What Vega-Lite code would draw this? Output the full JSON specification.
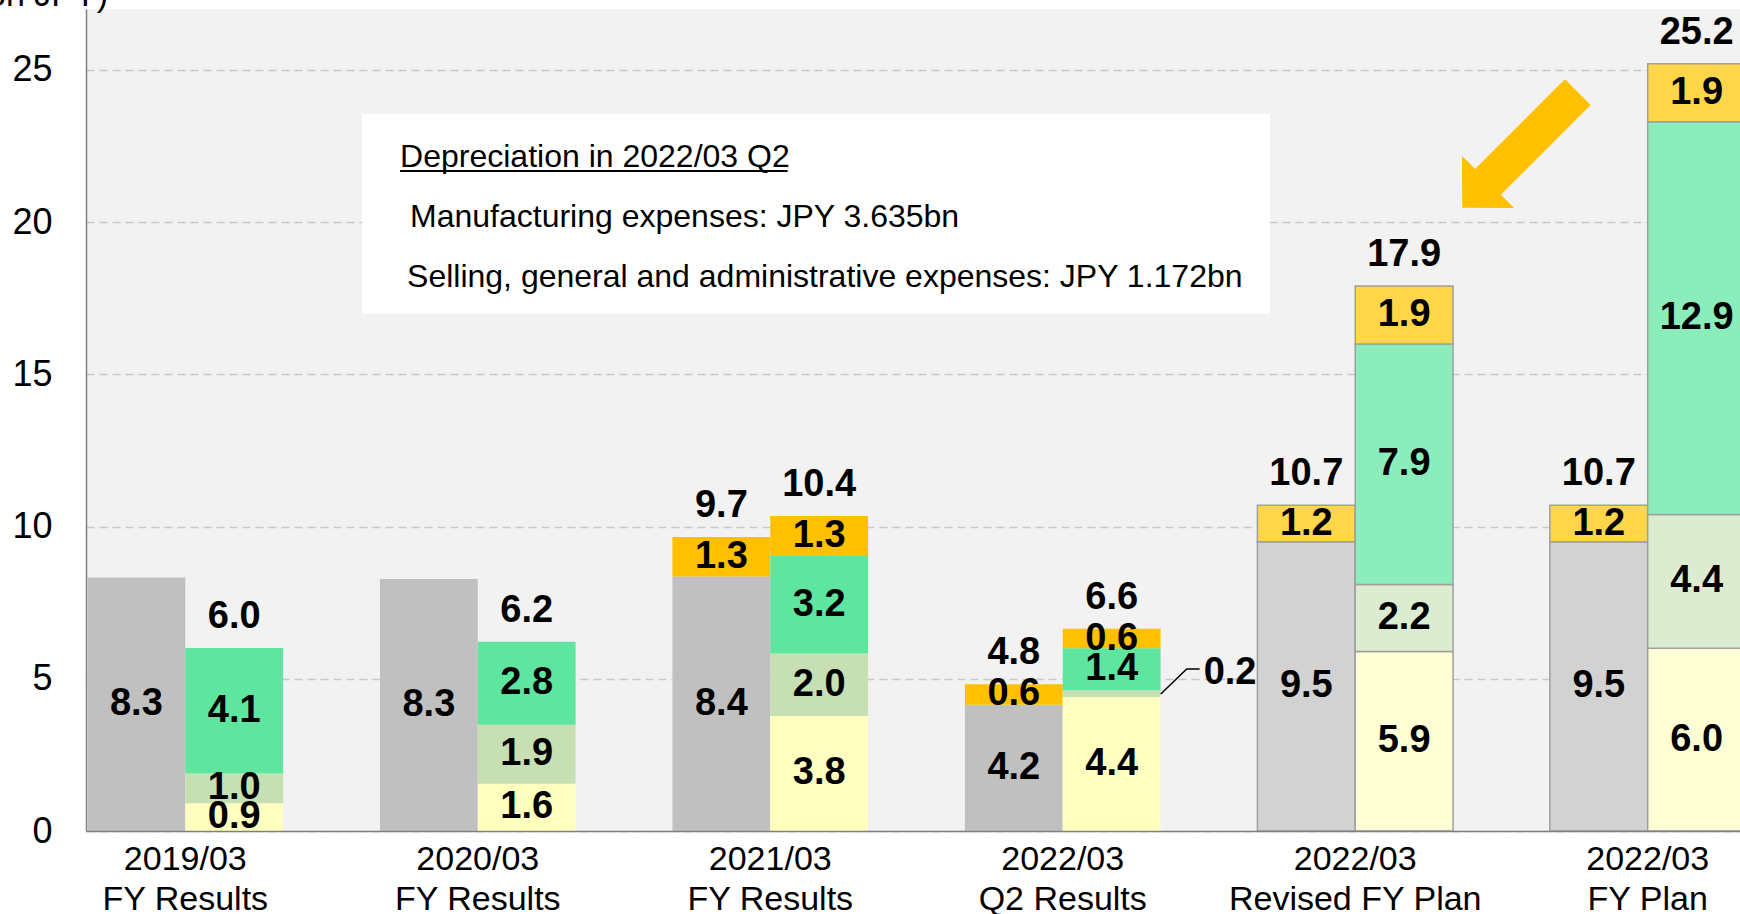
{
  "$schema": "https://vega.github.io/schema/vega-lite/v6.json",
  "width": 1654,
  "height": 822,
  "autosize": {"type": "none"},
  "padding": {"left": 86, "top": 9, "right": 0, "bottom": 83},
  "background": "white",
  "config": {
    "font": "Liberation Sans",
    "view": {"fill": "#f2f2f2", "stroke": null},
    "axisY": {
      "labelFontSize": 36,
      "labelColor": "#000000",
      "labelPadding": 34,
      "ticks": false,
      "domainColor": "#7f7f7f",
      "domainWidth": 1.5,
      "gridColor": "#c8c8c8",
      "gridDash": [8, 5],
      "gridWidth": 1.5
    }
  },
  "datasets": {
    "segs": [
      {"period": "2019/03|FY Results", "bar": "L", "seg": "gray", "kind": "result", "value": 8.33, "label": "8.3"},
      {"period": "2019/03|FY Results", "bar": "R", "seg": "yellow", "kind": "result", "value": 0.91, "label": "0.9"},
      {"period": "2019/03|FY Results", "bar": "R", "seg": "lgreen", "kind": "result", "value": 0.98, "label": "1.0"},
      {"period": "2019/03|FY Results", "bar": "R", "seg": "green", "kind": "result", "value": 4.12, "label": "4.1"},
      {"period": "2020/03|FY Results", "bar": "L", "seg": "gray", "kind": "result", "value": 8.28, "label": "8.3"},
      {"period": "2020/03|FY Results", "bar": "R", "seg": "yellow", "kind": "result", "value": 1.55, "label": "1.6"},
      {"period": "2020/03|FY Results", "bar": "R", "seg": "lgreen", "kind": "result", "value": 1.94, "label": "1.9"},
      {"period": "2020/03|FY Results", "bar": "R", "seg": "green", "kind": "result", "value": 2.73, "label": "2.8"},
      {"period": "2021/03|FY Results", "bar": "L", "seg": "gray", "kind": "result", "value": 8.36, "label": "8.4"},
      {"period": "2021/03|FY Results", "bar": "L", "seg": "orange", "kind": "result", "value": 1.3, "label": "1.3"},
      {"period": "2021/03|FY Results", "bar": "R", "seg": "yellow", "kind": "result", "value": 3.78, "label": "3.8"},
      {"period": "2021/03|FY Results", "bar": "R", "seg": "lgreen", "kind": "result", "value": 2.05, "label": "2.0"},
      {"period": "2021/03|FY Results", "bar": "R", "seg": "green", "kind": "result", "value": 3.2, "label": "3.2"},
      {"period": "2021/03|FY Results", "bar": "R", "seg": "orange", "kind": "result", "value": 1.32, "label": "1.3"},
      {"period": "2022/03|Q2 Results", "bar": "L", "seg": "gray", "kind": "result", "value": 4.15, "label": "4.2"},
      {"period": "2022/03|Q2 Results", "bar": "L", "seg": "orange", "kind": "result", "value": 0.67, "label": "0.6"},
      {"period": "2022/03|Q2 Results", "bar": "R", "seg": "yellow", "kind": "result", "value": 4.4, "label": "4.4"},
      {"period": "2022/03|Q2 Results", "bar": "R", "seg": "lgreen", "kind": "result", "value": 0.22, "label": "0.2"},
      {"period": "2022/03|Q2 Results", "bar": "R", "seg": "green", "kind": "result", "value": 1.38, "label": "1.4"},
      {"period": "2022/03|Q2 Results", "bar": "R", "seg": "orange", "kind": "result", "value": 0.64, "label": "0.6"},
      {"period": "2022/03|Revised FY Plan", "bar": "L", "seg": "gray", "kind": "plan", "value": 9.5, "label": "9.5"},
      {"period": "2022/03|Revised FY Plan", "bar": "L", "seg": "orange", "kind": "plan", "value": 1.2, "label": "1.2"},
      {"period": "2022/03|Revised FY Plan", "bar": "R", "seg": "yellow", "kind": "plan", "value": 5.9, "label": "5.9"},
      {"period": "2022/03|Revised FY Plan", "bar": "R", "seg": "lgreen", "kind": "plan", "value": 2.2, "label": "2.2"},
      {"period": "2022/03|Revised FY Plan", "bar": "R", "seg": "green", "kind": "plan", "value": 7.9, "label": "7.9"},
      {"period": "2022/03|Revised FY Plan", "bar": "R", "seg": "orange", "kind": "plan", "value": 1.9, "label": "1.9"},
      {"period": "2022/03|FY Plan", "bar": "L", "seg": "gray", "kind": "plan", "value": 9.5, "label": "9.5"},
      {"period": "2022/03|FY Plan", "bar": "L", "seg": "orange", "kind": "plan", "value": 1.2, "label": "1.2"},
      {"period": "2022/03|FY Plan", "bar": "R", "seg": "yellow", "kind": "plan", "value": 6.0, "label": "6.0"},
      {"period": "2022/03|FY Plan", "bar": "R", "seg": "lgreen", "kind": "plan", "value": 4.4, "label": "4.4"},
      {"period": "2022/03|FY Plan", "bar": "R", "seg": "green", "kind": "plan", "value": 12.9, "label": "12.9"},
      {"period": "2022/03|FY Plan", "bar": "R", "seg": "orange", "kind": "plan", "value": 1.9, "label": "1.9"}
    ],
    "totals": [
      {"period": "2019/03|FY Results", "bar": "R", "total": 6.01, "label": "6.0"},
      {"period": "2020/03|FY Results", "bar": "R", "total": 6.22, "label": "6.2"},
      {"period": "2021/03|FY Results", "bar": "L", "total": 9.66, "label": "9.7"},
      {"period": "2021/03|FY Results", "bar": "R", "total": 10.35, "label": "10.4"},
      {"period": "2022/03|Q2 Results", "bar": "L", "total": 4.82, "label": "4.8"},
      {"period": "2022/03|Q2 Results", "bar": "R", "total": 6.64, "label": "6.6"},
      {"period": "2022/03|Revised FY Plan", "bar": "L", "total": 10.7, "label": "10.7"},
      {"period": "2022/03|Revised FY Plan", "bar": "R", "total": 17.9, "label": "17.9"},
      {"period": "2022/03|FY Plan", "bar": "L", "total": 10.7, "label": "10.7"},
      {"period": "2022/03|FY Plan", "bar": "R", "total": 25.2, "label": "25.2"}
    ],
    "box": [
      {"x1": 0.1669, "x2": 0.7158, "y1": 23.55, "y2": 17.0}
    ],
    "notes": [
      {"text": "Depreciation in 2022/03 Q2", "x": 0.1899, "y": 21.8},
      {"text": "Manufacturing expenses: JPY 3.635bn", "x": 0.1959, "y": 19.85},
      {"text": "Selling, general and administrative expenses: JPY 1.172bn", "x": 0.1941, "y": 17.88}
    ],
    "underline": [
      {"x1": 0.1899, "x2": 0.4242, "y": 21.68}
    ],
    "leader": [
      {"i": 0, "x": 0.6498, "y": 4.5},
      {"i": 1, "x": 0.6655, "y": 5.32},
      {"i": 2, "x": 0.6733, "y": 5.32}
    ],
    "arrow": [
      {"x": 0.867, "y": 22.37}
    ],
    "unit": [
      {"text": "(Bn JPY)", "x": 0.0133, "y": 27.1}
    ]
  },
  "layer": [
    {
      "layer": [
        {
          "data": {"name": "segs"},
          "transform": [
            {"calculate": "indexof(['gray','yellow','lgreen','green','orange'], datum.seg)", "as": "ord"},
            {"calculate": "datum.seg + '|' + datum.kind", "as": "key"},
            {"stack": "value", "groupby": ["period", "bar"], "sort": [{"field": "ord", "order": "ascending"}], "as": ["y0", "y1"]},
            {"calculate": "(datum.y0 + datum.y1) / 2", "as": "ym"}
          ],
          "layer": [
            {
              "mark": {"type": "bar", "stroke": "#a0a0a0"},
              "encoding": {
                "y": {"field": "y1", "type": "quantitative", "scale": {"domain": [0, 27], "nice": false, "zero": true}, "axis": {"values": [0, 5, 10, 15, 20, 25], "title": null}},
                "y2": {"field": "y0"},
                "fill": {
                  "field": "key",
                  "type": "nominal",
                  "legend": null,
                  "scale": {
                    "domain": ["gray|result", "orange|result", "green|result", "lgreen|result", "yellow|result", "gray|plan", "orange|plan", "green|plan", "lgreen|plan", "yellow|plan"],
                    "range": ["#c0c0c0", "#ffc000", "#5ee6a0", "#c6e0b4", "#ffffc0", "#d2d2d2", "#ffd54a", "#8aedbb", "#dbecd0", "#ffffd6"]
                  }
                },
                "strokeWidth": {"condition": {"test": "datum.kind === 'plan'", "value": 1.5}, "value": 0}
              }
            },
            {
              "transform": [{"filter": "datum.value >= 0.5"}],
              "mark": {"type": "text", "fontSize": 38, "fontWeight": "bold", "color": "#000000", "baseline": "middle", "align": "center"},
              "encoding": {
                "y": {"field": "ym", "type": "quantitative", "scale": {"domain": [0, 27], "nice": false, "zero": true}, "axis": {"values": [0, 5, 10, 15, 20, 25], "title": null}},
                "text": {"field": "label"}
              }
            },
            {
              "transform": [{"filter": "datum.value < 0.5"}],
              "mark": {"type": "text", "fontSize": 38, "fontWeight": "bold", "color": "#000000", "baseline": "middle", "align": "left", "dx": 92, "dy": -21},
              "encoding": {
                "y": {"field": "ym", "type": "quantitative", "scale": {"domain": [0, 27], "nice": false, "zero": true}, "axis": {"values": [0, 5, 10, 15, 20, 25], "title": null}},
                "text": {"field": "label"}
              }
            }
          ]
        },
        {
          "data": {"name": "totals"},
          "mark": {"type": "text", "fontSize": 38, "fontWeight": "bold", "color": "#000000", "baseline": "alphabetic", "align": "center", "dy": -20},
          "encoding": {
            "y": {"field": "total", "type": "quantitative", "scale": {"domain": [0, 27], "nice": false, "zero": true}, "axis": {"values": [0, 5, 10, 15, 20, 25], "title": null}},
            "text": {"field": "label"}
          }
        }
      ],
      "encoding": {
        "x": {
          "field": "period",
          "type": "nominal",
          "scale": {
            "domain": ["2019/03|FY Results", "2020/03|FY Results", "2021/03|FY Results", "2022/03|Q2 Results", "2022/03|Revised FY Plan", "2022/03|FY Plan"],
            "range": [0, 1661],
            "paddingInner": 0.331,
            "paddingOuter": 0.005
          },
          "axis": {
            "title": null,
            "labelExpr": "split(datum.value, '|')",
            "labelAngle": 0,
            "labelFontSize": 34,
            "labelColor": "#000000",
            "labelLineHeight": 40,
            "labelPadding": 11,
            "labelLimit": 0,
            "ticks": false,
            "grid": false,
            "domainColor": "#7f7f7f",
            "domainWidth": 1.5,
            "zindex": 1
          }
        },
        "xOffset": {"field": "bar", "type": "nominal", "scale": {"domain": ["L", "R"], "paddingInner": 0, "paddingOuter": 0}}
      }
    },
    {
      "layer": [
        {
          "data": {"name": "box"},
          "mark": {"type": "rect", "fill": "#ffffff"},
          "encoding": {
            "x": {"field": "x1", "type": "quantitative", "scale": {"domain": [0, 1], "nice": false, "zero": false}, "axis": null},
            "x2": {"field": "x2"},
            "y": {"field": "y1", "type": "quantitative", "scale": {"domain": [0, 27], "nice": false, "zero": true}, "axis": {"values": [0, 5, 10, 15, 20, 25], "title": null}},
            "y2": {"field": "y2"}
          }
        },
        {
          "data": {"name": "notes"},
          "mark": {"type": "text", "fontSize": 32, "color": "#000000", "align": "left", "baseline": "alphabetic"},
          "encoding": {
            "x": {"field": "x", "type": "quantitative", "scale": {"domain": [0, 1], "nice": false, "zero": false}, "axis": null},
            "y": {"field": "y", "type": "quantitative", "scale": {"domain": [0, 27], "nice": false, "zero": true}, "axis": {"values": [0, 5, 10, 15, 20, 25], "title": null}},
            "text": {"field": "text"}
          }
        },
        {
          "data": {"name": "underline"},
          "mark": {"type": "rule", "color": "#000000", "strokeWidth": 2},
          "encoding": {
            "x": {"field": "x1", "type": "quantitative", "scale": {"domain": [0, 1], "nice": false, "zero": false}, "axis": null},
            "x2": {"field": "x2"},
            "y": {"field": "y", "type": "quantitative", "scale": {"domain": [0, 27], "nice": false, "zero": true}, "axis": {"values": [0, 5, 10, 15, 20, 25], "title": null}}
          }
        },
        {
          "data": {"name": "leader"},
          "mark": {"type": "line", "color": "#000000", "strokeWidth": 1.5},
          "encoding": {
            "x": {"field": "x", "type": "quantitative", "scale": {"domain": [0, 1], "nice": false, "zero": false}, "axis": null},
            "y": {"field": "y", "type": "quantitative", "scale": {"domain": [0, 27], "nice": false, "zero": true}, "axis": {"values": [0, 5, 10, 15, 20, 25], "title": null}},
            "order": {"field": "i"}
          }
        },
        {
          "data": {"name": "arrow"},
          "mark": {
            "type": "point",
            "filled": true,
            "fill": "#ffc000",
            "opacity": 1,
            "strokeWidth": 0,
            "shape": "M -0.223 -1 L 0.223 -1 L 0.223 0.554 L 0.45 0.554 L 0 1 L -0.45 0.554 L -0.223 0.554 Z",
            "size": 26700,
            "angle": 45
          },
          "encoding": {
            "x": {"field": "x", "type": "quantitative", "scale": {"domain": [0, 1], "nice": false, "zero": false}, "axis": null},
            "y": {"field": "y", "type": "quantitative", "scale": {"domain": [0, 27], "nice": false, "zero": true}, "axis": {"values": [0, 5, 10, 15, 20, 25], "title": null}}
          }
        },
        {
          "data": {"name": "unit"},
          "mark": {"type": "text", "fontSize": 34, "color": "#000000", "align": "right", "baseline": "alphabetic"},
          "encoding": {
            "x": {"field": "x", "type": "quantitative", "scale": {"domain": [0, 1], "nice": false, "zero": false}, "axis": null},
            "y": {"field": "y", "type": "quantitative", "scale": {"domain": [0, 27], "nice": false, "zero": true}, "axis": {"values": [0, 5, 10, 15, 20, 25], "title": null}},
            "text": {"field": "text"}
          }
        }
      ]
    }
  ],
  "resolve": {"scale": {"x": "independent"}, "axis": {"x": "independent"}}
}
